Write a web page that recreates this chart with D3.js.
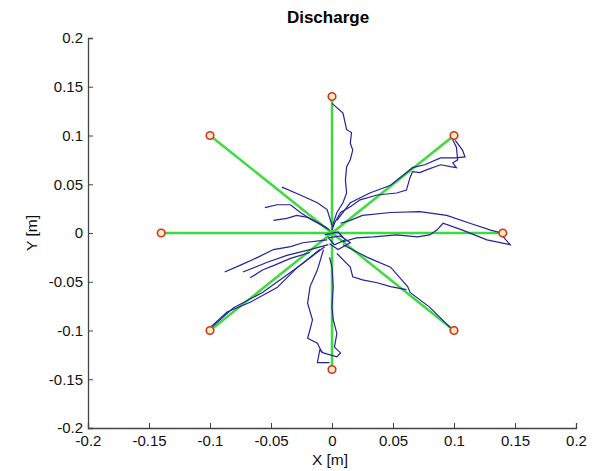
<!DOCTYPE html>
<html>
<head>
<meta charset="utf-8">
<script src="https://cdn.jsdelivr.net/npm/d3@7"></script>
<style>
  body { margin: 0; background: #fff; }
  text { font-family: Arial, "Liberation Sans", sans-serif; }
</style>
</head>
<body>
<div id="chart"></div>
<script>
// tick values
const xTicks = [-0.2, -0.15, -0.1, -0.05, 0, 0.05, 0.1, 0.15, 0.2];
const yTicks = [-0.2, -0.15, -0.1, -0.05, 0, 0.05, 0.1, 0.15, 0.2];

// target positions [x, y] in metres
const targets = [
  [0.14, 0], [0.1, 0.1], [0, 0.14], [-0.1, 0.1],
  [-0.14, 0], [-0.1, -0.1], [0, -0.14], [0.1, -0.1]
];

// hand trajectories
const trajN = [[0,0.133],[0.009,0.123],[0.012,0.106],[0.016,0.103],[0.015,0.092],[0.017,0.085],[0.015,0.075],[0.012,0.068],[0.011,0.054],[0.012,0.041],[0.009,0.031],[0.004,0.021],[0,0.006]];
const trajNE1 = [[0.098,0.098],[0.102,0.088],[0.103,0.075],[0.099,0.072],[0.102,0.067],[0.097,0.068],[0.089,0.070],[0.078,0.065],[0.072,0.062],[0.066,0.063],[0.064,0.057],[0.061,0.044],[0.053,0.041],[0.037,0.039],[0.023,0.034],[0.015,0.027],[0.007,0.021],[0.002,0.010],[0,0.003]];
const trajNE2 = [[0.101,0.095],[0.107,0.085],[0.109,0.078],[0.101,0.077],[0.089,0.077],[0.076,0.070],[0.066,0.067],[0.058,0.059],[0.048,0.049],[0.031,0.041],[0.015,0.031],[0.004,0.013]];
const trajE1 = [[0.007,0.010],[0.015,0.013],[0.025,0.018],[0.048,0.021],[0.072,0.022],[0.094,0.018],[0.113,0.010],[0.130,0.003],[0.139,0]];
const trajE2 = [[0.139,-0.002],[0.146,-0.012],[0.127,-0.007],[0.107,0.003],[0.091,0.010],[0.086,0.003],[0.080,-0.002],[0.070,-0.004],[0.053,-0.002],[0.034,-0.004],[0.020,-0.005],[0.009,-0.009]];
const trajSE1 = [[0.009,-0.012],[0.029,-0.025],[0.048,-0.035],[0.062,-0.055],[0.064,-0.061],[0.080,-0.076],[0.097,-0.097]];
const trajSE2 = [[0.004,-0.021],[0.015,-0.035],[0.017,-0.045],[0.025,-0.048],[0.037,-0.051],[0.048,-0.055],[0.061,-0.058]];
const trajS1 = [[-0.002,-0.025],[0,-0.035],[0.001,-0.055],[0,-0.076],[0.001,-0.089],[0.004,-0.103],[0.002,-0.117],[0.007,-0.123],[0.004,-0.127],[-0.007,-0.123],[-0.010,-0.120],[-0.012,-0.133],[-0.002,-0.133]];
const trajS2 = [[-0.007,-0.017],[-0.012,-0.038],[-0.018,-0.055],[-0.020,-0.072],[-0.016,-0.089],[-0.018,-0.099],[-0.020,-0.108],[-0.012,-0.113],[-0.008,-0.123]];
const trajSW1 = [[-0.100,-0.097],[-0.086,-0.081],[-0.067,-0.071],[-0.045,-0.056],[-0.029,-0.036],[-0.010,-0.017]];
const trajSW2 = [[-0.098,-0.096],[-0.081,-0.077],[-0.057,-0.061],[-0.037,-0.043],[-0.026,-0.033],[-0.006,-0.014]];
const trajW1 = [[-0.088,-0.040],[-0.075,-0.033],[-0.061,-0.025],[-0.048,-0.017],[-0.034,-0.014],[-0.024,-0.010],[-0.004,-0.007]];
const trajW2 = [[-0.073,-0.040],[-0.053,-0.030],[-0.037,-0.023],[-0.018,-0.017],[-0.003,-0.012]];
const trajW3 = [[-0.067,-0.046],[-0.057,-0.038],[-0.047,-0.033],[-0.034,-0.026],[-0.018,-0.020]];
const trajNW1 = [[-0.055,0.026],[-0.045,0.029],[-0.034,0.029],[-0.026,0.021],[-0.016,0.013],[-0.004,0.005]];
const trajNW2 = [[-0.048,0.013],[-0.037,0.015],[-0.029,0.018],[-0.020,0.016],[-0.012,0.011],[-0.002,0.003]];
const trajNW3 = [[-0.041,0.047],[-0.026,0.039],[-0.012,0.031],[-0.004,0.024],[0,0.008]];
const trajC = [[-0.006,-0.002],[0.005,0.001],[0.011,-0.007],[0.002,-0.012],[-0.003,-0.005],[0.007,-0.003],[0.015,-0.010],[0.005,-0.017],[-0.002,-0.011]];

const trajectories = [trajN, trajNE1, trajNE2, trajE1, trajE2, trajSE1, trajSE2,
  trajS1, trajS2, trajSW1, trajSW2, trajW1, trajW2, trajW3, trajNW1, trajNW2, trajNW3, trajC];

const width = 596;
const height = 471;
const margin = { top: 38, right: 20, bottom: 43, left: 88 };

const svg = d3.select("#chart")
    .append("svg")
    .attr("width", width)
    .attr("height", height);

const xScale = d3.scaleLinear().domain([-0.2, 0.2]).range([margin.left, 576]);
const yScale = d3.scaleLinear().domain([-0.2, 0.2]).range([height - margin.bottom, margin.top]);

// green reference lines from origin to each target
svg.append("g")
    .selectAll("line")
    .data(targets)
    .enter()
    .append("line")
    .attr("x1", xScale(0))
    .attr("y1", yScale(0))
    .attr("x2", d => xScale(d[0]))
    .attr("y2", d => yScale(d[1]))
    .attr("stroke", "#3ddc3d")
    .attr("stroke-width", 2.5);

// blue trajectories
const line = d3.line().x(d => xScale(d[0])).y(d => yScale(d[1]));
svg.append("g")
    .selectAll("path")
    .data(trajectories)
    .enter()
    .append("path")
    .attr("d", line)
    .attr("fill", "none")
    .attr("stroke", "#23239a")
    .attr("stroke-width", 1.2);

// red target markers
svg.append("g")
    .selectAll("circle")
    .data(targets)
    .enter()
    .append("circle")
    .attr("cx", d => xScale(d[0]))
    .attr("cy", d => yScale(d[1]))
    .attr("r", 3.8)
    .attr("fill", "#f5eebb")
    .attr("stroke", "#d9301f")
    .attr("stroke-width", 1.6);

// axes, MATLAB style ticks pointing inward, plain hyphen minus
const fmt = d => String(d);
const xAxis = svg.append("g")
    .attr("transform", `translate(0,${yScale(-0.2)})`)
    .call(d3.axisBottom(xScale).tickValues(xTicks).tickSize(-5).tickPadding(7).tickFormat(fmt));
const yAxis = svg.append("g")
    .attr("transform", `translate(${xScale(-0.2)},0)`)
    .call(d3.axisLeft(yScale).tickValues(yTicks).tickSize(-5).tickPadding(5).tickFormat(fmt));

[xAxis, yAxis].forEach(ax => {
  ax.select(".domain").attr("stroke", "#444").attr("stroke-width", 1.3);
  ax.selectAll(".tick line").attr("stroke", "#444");
  ax.selectAll(".tick text").attr("fill", "#111").style("font-size", "15px");
});

// labels
svg.append("text")
    .attr("x", 328)
    .attr("y", 23)
    .attr("text-anchor", "middle")
    .style("font-size", "17px")
    .style("font-weight", "bold")
    .text("Discharge");

svg.append("text")
    .attr("x", 330)
    .attr("y", 465)
    .attr("text-anchor", "middle")
    .style("font-size", "15.5px")
    .attr("fill", "#111")
    .text("X [m]");

svg.append("text")
    .attr("x", 37)
    .attr("y", yScale(0))
    .attr("text-anchor", "middle")
    .attr("transform", "rotate(-90,37," + yScale(0) + ")")
    .style("font-size", "15.5px")
    .attr("fill", "#111")
    .text("Y [m]");
</script>
</body>
</html>
